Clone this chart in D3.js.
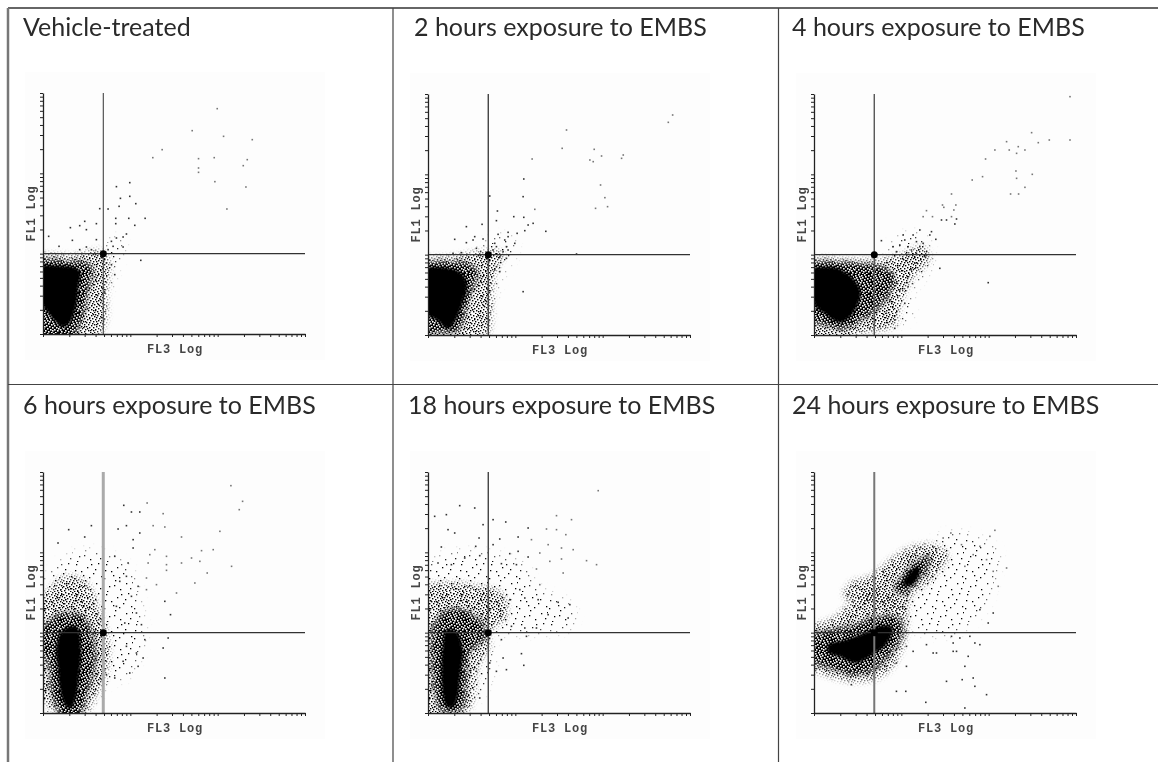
<!DOCTYPE html>
<html><head><meta charset="utf-8">
<script src="https://cdn.jsdelivr.net/npm/d3@7"></script>
<style>html,body{margin:0;padding:0;background:#fff}svg{display:block}</style>
</head><body><div id="c"></div>
<script>
// Titles
const titles=["Vehicle-treated","2 hours exposure to EMBS","4 hours exposure to EMBS","6 hours exposure to EMBS","18 hours exposure to EMBS","24 hours exposure to EMBS"];
const axisLabelX="FL3 Log", axisLabelY="FL1 Log";
// Channels: FL3 0-785, FL1 0-723 (3 log decades each)
const gateFL3=4.9, gateFL1=10;
// Regions of the dot plots as [FL3 channel, FL1 channel] outlines
const p1Core=[[2,200],[50,205],[95,200],[112,185],[106,140],[100,85],[82,35],[60,20],[35,40],[10,70],[2,120]];
const p1Dense=[[0,215],[80,218],[130,215],[150,190],[135,130],[125,70],[110,25],[80,5],[40,5],[0,10]];
const p1Mid=[[0,225],[100,235],[165,250],[195,230],[190,120],[185,30],[140,3],[0,5]];
const p1Sparse=[[180,240],[215,290],[240,270],[215,190],[195,130],[180,130]];
const p2Core=[[3,192],[55,202],[100,186],[118,150],[104,95],[80,38],[60,18],[25,45],[3,75],[0,130]];
const p2Dense=[[0,208],[60,220],[120,215],[150,185],[130,130],[110,60],[90,12],[40,8],[0,10]];
const p2Mid=[[0,215],[80,235],[165,250],[225,245],[200,190],[190,100],[180,8],[100,5],[0,5]];
const p2Sparse=[[150,240],[190,290],[250,290],[260,250],[230,200],[200,130],[190,60]];
const p3Core=[[2,190],[60,203],[110,176],[140,130],[125,78],[90,40],[70,38],[35,62],[5,85],[0,140]];
const p3Dense=[[0,210],[60,220],[130,215],[215,200],[240,170],[210,100],[150,50],[90,18],[30,30],[0,50]];
const p3Mid=[[0,215],[120,225],[200,225],[260,240],[325,265],[345,230],[290,165],[260,100],[240,30],[150,10],[40,5],[0,15]];
const p3Sparse=[[240,30],[290,60],[290,130],[345,200],[350,250],[320,300],[250,290],[220,235]];
const p4Core=[[60,250],[100,260],[114,190],[108,110],[100,50],[85,15],[70,18],[54,55],[45,130],[40,200]];
const p4Dense=[[10,270],[60,300],[120,290],[150,230],[155,140],[130,50],[100,5],[65,5],[25,60],[15,150],[0,220]];
const p4Mid=[[0,300],[20,370],[70,410],[130,390],[170,300],[195,220],[190,120],[150,40],[110,5],[20,20],[0,100]];
const p4Sparse=[[0,330],[30,430],[100,480],[180,480],[260,430],[295,290],[300,210],[250,110],[190,90],[150,30],[0,20]];
const p5Core=[[55,250],[85,245],[104,190],[96,110],[90,50],[76,18],[56,18],[44,60],[40,130],[44,200]];
const p5Dense=[[15,260],[60,310],[130,300],[170,260],[175,230],[125,180],[115,90],[100,10],[40,8],[20,60],[10,170]];
const p5Mid=[[0,370],[60,390],[150,380],[220,360],[235,290],[180,240],[185,210],[150,140],[120,10],[10,5],[0,100]];
const p5Sparse=[[0,400],[40,470],[170,480],[290,440],[320,380],[430,320],[430,260],[300,240],[200,230],[190,120],[130,30],[0,15]];
const p6Core=[[42,205],[90,218],[150,240],[197,262],[235,258],[220,210],[175,175],[125,150],[80,168],[42,182]];
const p6Dense=[[0,225],[50,250],[120,265],[190,290],[255,285],[265,235],[230,180],[180,130],[125,115],[60,130],[0,170]];
const p6Mid=[[0,245],[60,285],[120,340],[180,375],[230,345],[275,295],[270,215],[235,140],[190,105],[120,95],[50,110],[0,150]];
const p6Core2=[[265,385],[285,420],[310,440],[318,425],[295,385]];
const p6Dense2=[[240,375],[270,420],[310,460],[345,470],[340,435],[300,385],[265,355]];
const p6Mid2=[[90,350],[110,390],[170,410],[230,460],[300,500],[370,500],[400,470],[350,400],[290,350],[270,290],[200,330],[140,330]];
const p6Sparse=[[230,310],[280,410],[340,500],[410,540],[500,520],[550,480],[545,420],[520,340],[490,290],[420,240],[300,250]];
// Individual events outside the dense regions
const p1Points=[[522,676],[447,610],[541,593],[627,583],[357,553],[329,529],[466,526],[513,529],[612,523],[600,505],[466,498],[466,485],[515,457],[608,441],[551,375],[260,454],[220,442],[232,407],[260,413],[278,391],[228,383],[170,376],[195,375],[257,347],[218,347],[306,347],[275,326],[218,331],[160,331],[110,325],[125,338],[130,313],[82,319],[17,293],[88,281],[48,263],[130,261],[160,283],[250,300],[240,291],[220,288],[205,278],[210,263],[195,253],[240,261],[110,253],[145,253],[293,221],[215,178],[190,213],[205,208],[185,123]];
const p2Points=[[733,660],[720,638],[415,615],[402,560],[498,557],[520,537],[585,540],[580,530],[312,528],[485,525],[495,520],[287,468],[517,450],[285,415],[185,417],[530,412],[502,380],[538,385],[320,377],[208,372],[257,355],[287,353],[205,343],[315,335],[300,330],[162,332],[115,325],[353,311],[290,313],[267,305],[240,308],[210,302],[240,295],[230,285],[260,275],[200,275],[140,295],[135,285],[80,287],[165,288],[115,277],[235,265],[205,265],[225,250],[240,255],[285,130],[445,243],[145,260],[100,247],[75,245],[195,255],[215,235],[235,230],[215,190],[200,195],[205,205]];
const p3Points=[[767,715],[652,607],[767,585],[705,585],[672,577],[577,580],[612,565],[542,555],[585,555],[632,555],[607,545],[514,528],[605,492],[654,482],[505,475],[474,465],[607,470],[632,443],[589,423],[613,423],[412,423],[385,390],[425,390],[419,375],[337,373],[389,383],[327,355],[355,355],[382,345],[412,355],[427,348],[422,333],[397,345],[317,315],[352,310],[297,300],[267,300],[347,300],[202,283],[272,285],[307,280],[365,287],[237,265],[257,270],[282,265],[327,275],[292,255],[317,265],[247,250],[307,245],[332,235],[377,200],[522,157],[242,45],[242,20],[272,95],[282,145],[247,155],[267,175],[292,195],[302,215],[237,185],[257,135],[227,105],[217,65],[197,25],[167,20]];
const p4Points=[[563,682],[598,635],[588,610],[312,630],[242,623],[360,598],[265,603],[290,603],[530,545],[77,550],[145,562],[180,540],[225,552],[330,562],[365,558],[415,528],[290,540],[250,562],[125,528],[45,510],[270,520],[270,495],[335,490],[510,490],[475,487],[445,465],[470,455],[565,440],[492,420],[415,450],[370,470],[370,445],[320,475],[315,450],[370,428],[455,390],[400,360],[365,335],[382,295],[340,385],[310,405],[310,370],[250,410],[285,380],[280,300],[295,265],[255,450],[215,470],[230,395],[220,320],[265,350],[245,270],[375,225],[360,195],[300,165],[285,140],[240,155],[260,120],[215,105],[365,105],[190,115],[305,220],[250,200],[280,180]];
const p5Points=[[510,667],[95,622],[140,615],[55,595],[20,590],[385,592],[430,580],[195,580],[233,573],[165,565],[355,552],[385,550],[300,555],[60,550],[80,540],[413,535],[310,520],[215,522],[270,528],[153,525],[360,505],[143,500],[40,498],[195,505],[435,490],[400,495],[335,480],[270,485],[245,478],[155,472],[110,465],[300,468],[400,462],[365,455],[475,457],[505,445],[220,448],[265,445],[70,445],[30,450],[325,432],[405,420],[335,385],[290,345],[330,340],[390,332],[425,325],[360,295],[420,285],[290,255],[250,260],[325,255],[295,230],[220,220],[280,178],[287,143],[235,130],[205,125],[225,165],[155,45],[145,125],[185,150],[215,290],[245,340],[275,370]];
const p6Points=[[397,95],[444,100],[477,105],[482,80],[517,55],[335,32],[452,15],[247,65],[275,65],[112,85],[357,180],[367,180],[337,205],[417,185],[427,185],[497,205],[482,210],[462,170],[452,140],[412,230],[437,225],[467,230],[417,210],[297,185],[277,140],[247,150],[217,140],[197,130],[277,200],[247,190],[410,540],[542,548],[387,525],[527,530],[442,505],[577,435],[552,380],[497,310],[537,300],[522,270],[207,425],[302,478],[367,485],[517,460],[537,425],[497,500],[477,475],[452,440]];
// Stipple tiles standing in for the texture of dense dots (dot columns per row)
const stippleRows=[[2,9,15],[5,12,18],[0,8,14],[3,11,17],[6,13,19],[1,9,16],[4,12],[7,15,18],[0,10,13],[3,6,17],[9,14,19],[1,5,11],[8,16],[3,13,18],[0,6,10],[4,15,19],[2,8,12],[5,10,17],[1,14],[7,11,18]];
const sparseDots=[[3,2],[14,5],[25,1],[8,9],[20,11],[28,14],[1,16],[12,18],[23,21],[6,24],[17,27],[27,26],[10,13],[4,29],[18,2],[22,7],[11,23],[16,15],[29,20],[2,8]];

const tierFeather={core:1.6,dense:2.5,mid:3,sparse:4};
const panels=[
 {title:titles[0],tx:23,ty:35,ox:43,oy:334,gw:1,gc:"#333",areas:[[p1Sparse,"sparse"],[p1Mid,"mid"],[p1Dense,"dense"],[p1Core,"core"]],points:p1Points},
 {title:titles[1],tx:414,ty:35,ox:428,oy:335,gw:1.4,gc:"#444",areas:[[p2Sparse,"sparse"],[p2Mid,"mid"],[p2Dense,"dense"],[p2Core,"core"]],points:p2Points},
 {title:titles[2],tx:792,ty:35,ox:814,oy:335,gw:1.4,gc:"#555",areas:[[p3Sparse,"sparse"],[p3Mid,"mid"],[p3Dense,"dense"],[p3Core,"core"]],points:p3Points},
 {title:titles[3],tx:23,ty:413,ox:43,oy:713,gw:3,gc:"#aaa",areas:[[p4Sparse,"sparse"],[p4Mid,"mid"],[p4Dense,"dense"],[p4Core,"core"]],points:p4Points},
 {title:titles[4],tx:408,ty:413,ox:428,oy:713,gw:1.4,gc:"#444",areas:[[p5Sparse,"sparse"],[p5Mid,"mid"],[p5Dense,"dense"],[p5Core,"core"]],points:p5Points},
 {title:titles[5],tx:792,ty:413,ox:814,oy:713,gw:2,gc:"#777",areas:[[p6Sparse,"sparse"],[p6Mid2,"mid"],[p6Mid,"mid"],[p6Dense2,"dense"],[p6Dense,"dense"],[p6Core2,"core"],[p6Core,"core"]],points:p6Points}
];

const W=1158,H=762,pw=262,ph=241;
const svg=d3.select("#c").append("svg").attr("width",W).attr("height",H).attr("viewBox",`0 0 ${W} ${H}`);
const defs=svg.append("defs");
defs.append("filter").attr("id","soft").attr("x","-10%").attr("y","-10%").attr("width","120%").attr("height","120%")
  .append("feGaussianBlur").attr("stdDeviation",0.5);
defs.append("filter").attr("id","softText").append("feGaussianBlur").attr("stdDeviation",0.4);
Object.entries(tierFeather).forEach(([k,v])=>{
  defs.append("filter").attr("id","fe-"+k).attr("x","-40%").attr("y","-40%").attr("width","180%").attr("height","180%")
    .append("feGaussianBlur").attr("stdDeviation",v);
});

const stipple=stippleRows.flatMap((r,y)=>r.map(x=>[x,y]));
const tile=(id,w)=>defs.append("pattern").attr("id",id).attr("width",w).attr("height",w).attr("patternUnits","userSpaceOnUse");
tile("midTile",20).selectAll("rect").data(stipple).join("rect").attr("x",d=>d[0]).attr("y",d=>d[1]).attr("width",1.4).attr("height",1.4).attr("fill","#000");
tile("holesTile",20).selectAll("rect").data(stipple).join("rect").attr("x",d=>19-d[0]).attr("y",d=>d[1]).attr("width",1.6).attr("height",1.6).attr("fill","#fff");
tile("sparseTile",30).selectAll("rect").data(sparseDots).join("rect").attr("x",d=>d[0]).attr("y",d=>d[1]).attr("width",1.3).attr("height",1.3).attr("fill","#000");

// table rules
const rules=[[8,8,W,8,1.5,"#333"],[8,8,8,H,2.5,"#777"],[8,384.5,W,384.5,1.2,"#444"],[393,8,393,H,1.2,"#444"],[778.5,8,778.5,H,1.2,"#444"]];
svg.append("g").selectAll("line").data(rules).join("line")
  .attr("x1",d=>d[0]).attr("y1",d=>d[1]).attr("x2",d=>d[2]).attr("y2",d=>d[3]).attr("stroke-width",d=>d[4]).attr("stroke",d=>d[5]);

const chX=d3.scaleLinear().domain([0,785]).range([0,pw]);
const chY=d3.scaleLinear().domain([0,723]).range([ph,0]);
const logX=d3.scaleLog().domain([1,1000]).range([0,pw]);
const logY=d3.scaleLog().domain([1,1000]).range([ph,0]);
const decadeTicks=[1,2,3,4,5,6,7,8,9,10,20,30,40,50,60,70,80,90,100,200,300,400,500,600,700,800,900,1000];
// vertices on the axes are pushed past the clip so feathering does not fade at the axes
const outline=d3.line()
  .x(d=>d[0]<=3?chX(d[0])-10:chX(d[0]))
  .y(d=>d[1]<=5?chY(d[1])+10:chY(d[1]))
  .curve(d3.curveCatmullRomClosed.alpha(0.5));

panels.forEach((p,pi)=>{
  svg.append("text").attr("x",p.tx).attr("y",p.ty+1).text(p.title)
    .attr("font-family","Lato, 'Open Sans', sans-serif").attr("font-size",25).attr("fill","#2b2b2b").attr("filter","url(#softText)");
  svg.append("rect").attr("x",p.ox-18).attr("y",p.oy-262).attr("width",300).attr("height",288).attr("fill","#fdfdfd");
  const g=svg.append("g").attr("transform",`translate(${p.ox},${p.oy})`).append("g").attr("filter","url(#soft)");
  const inner=g.append("g").attr("transform",`translate(0,${-ph})`);
  const clipId="clip"+pi;
  defs.append("clipPath").attr("id",clipId).append("rect").attr("width",pw).attr("height",ph);
  const regions=inner.append("g").attr("clip-path",`url(#${clipId})`);
  p.areas.forEach((a,ai)=>{
    const maskId=`m${pi}-${ai}`;
    defs.append("mask").attr("id",maskId).attr("maskUnits","userSpaceOnUse").attr("x",-40).attr("y",-40).attr("width",pw+80).attr("height",ph+80)
      .append("path").attr("d",outline(a[0])).attr("fill","#fff").attr("filter",`url(#fe-${a[1]})`);
    const layer=regions.append("g").attr("mask",`url(#${maskId})`);
    const box=s=>layer.append("rect").attr("x",-20).attr("y",-20).attr("width",pw+40).attr("height",ph+40).attr("fill",s);
    if(a[1]==="core") box("#000");
    else if(a[1]==="dense"){box("#000");box("url(#holesTile)");}
    else if(a[1]==="mid"){box("url(#midTile)");box("url(#sparseTile)");}
    else box("url(#sparseTile)");
  });
  inner.append("g").selectAll("rect").data(p.points).join("rect")
    .attr("x",d=>chX(d[0])-0.8).attr("y",d=>chY(d[1])-0.8).attr("width",1.6).attr("height",1.6).attr("fill",d=>d[0]>300&&d[1]>350?"#777":"#333");
  // gates
  inner.append("line").attr("x1",logX(gateFL3)).attr("x2",logX(gateFL3)).attr("y1",0).attr("y2",ph).attr("stroke",p.gc).attr("stroke-width",p.gw);
  inner.append("line").attr("x1",0).attr("x2",pw).attr("y1",logY(gateFL1)).attr("y2",logY(gateFL1)).attr("stroke","#333").attr("stroke-width",1.2);
  inner.append("circle").attr("cx",logX(gateFL3)).attr("cy",logY(gateFL1)).attr("r",3.5).attr("fill","#000");
  // axes
  const ax=inner.append("g").attr("transform",`translate(0,${ph})`).call(d3.axisBottom(logX).tickValues(decadeTicks).tickFormat("").tickSize(3).tickSizeOuter(0));
  const ay=inner.append("g").call(d3.axisLeft(logY).tickValues(decadeTicks).tickFormat("").tickSize(3).tickSizeOuter(0));
  [ax,ay].forEach(a=>{a.selectAll("path,line").attr("stroke","#222");a.select("path").attr("stroke-width",1.3);});
  const lab=(s)=>s.attr("text-anchor","middle").attr("font-family","'Liberation Mono',monospace").attr("font-size",12).attr("letter-spacing",0.8).attr("font-weight","bold").attr("fill","#444");
  inner.append("text").attr("x",132).attr("y",ph+19).text(axisLabelX).call(lab);
  inner.append("text").attr("transform",`translate(-8,${ph/2})rotate(-90)`).text(axisLabelY).call(lab);
});
</script></body></html>
